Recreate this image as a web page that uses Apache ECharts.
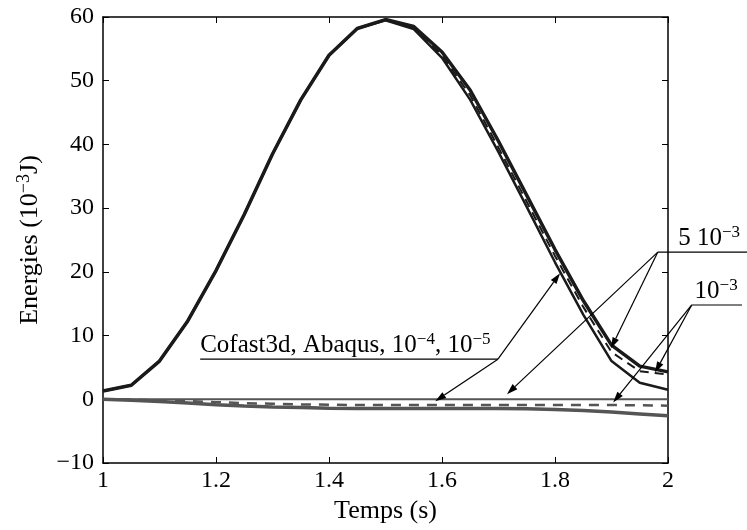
<!DOCTYPE html>
<html>
<head>
<meta charset="utf-8">
<script src="https://cdn.jsdelivr.net/npm/echarts@6/dist/echarts.min.js"></script>
<style>html,body{margin:0;padding:0;background:#fff}#c{width:747px;height:530px}</style>
</head>
<body>
<div id="c"></div>
<script>
const times = [1, 1.05, 1.1, 1.15, 1.2, 1.25, 1.3, 1.35, 1.4, 1.45, 1.5, 1.55, 1.6, 1.65, 1.7, 1.75, 1.8, 1.85, 1.9, 1.95, 2];
const energyOuter = [1.3, 2.2, 6.0, 12.3, 20.2, 29.0, 38.5, 47.0, 54.0, 58.2, 59.6, 58.5, 54.5, 48.5, 40.5, 32.0, 23.5, 15.5, 8.5, 5.2, 4.3];
const energyDashed = [1.3, 2.2, 6.0, 12.3, 20.2, 29.0, 38.5, 47.0, 54.0, 58.2, 59.6, 58.3, 54.0, 47.7, 39.5, 31.0, 22.5, 14.5, 7.4, 4.4, 3.9];
const energyInner = [1.3, 2.2, 6.0, 12.3, 20.2, 29.0, 38.5, 47.0, 54.0, 58.2, 59.5, 58.1, 53.6, 47.0, 38.8, 30.2, 21.5, 13.3, 6.0, 2.6, 1.5];
const lowSolid = [0, 0, 0, 0, 0, 0, 0, 0, 0, 0, 0, 0, 0, 0, 0, 0, 0, 0, 0, 0, 0];
const lowDashed = [0, -0.05, -0.15, -0.3, -0.45, -0.6, -0.7, -0.8, -0.85, -0.9, -0.9, -0.9, -0.9, -0.9, -0.9, -0.9, -0.9, -0.9, -0.9, -0.95, -1.0];
const lowThick = [0, -0.15, -0.35, -0.6, -0.85, -1.05, -1.2, -1.3, -1.4, -1.45, -1.45, -1.45, -1.45, -1.45, -1.45, -1.5, -1.6, -1.75, -2.0, -2.3, -2.6];
const xTicks = [1, 1.2, 1.4, 1.6, 1.8, 2];
const yTicks = [-10, 0, 10, 20, 30, 40, 50, 60];

const FONT = 'Liberation Serif';
const pair = arr => times.map((t, i) => [t, arr[i]]);

const chart = echarts.init(document.getElementById('c'), null, {renderer: 'canvas'});
const axisCommon = {
  type: 'value',
  axisLine: {show: true, onZero: false, lineStyle: {color: '#000', width: 1.5}},
  axisTick: {show: true, inside: true, length: 6, lineStyle: {color: '#000', width: 1}},
  splitLine: {show: false}
};
const lineSeries = (name, arr, color, width, type, z) => ({
  name, type: 'line', data: pair(arr), symbol: 'none', smooth: false, z: z || 2,
  lineStyle: {color, width, type: type || 'solid'}
});

chart.setOption({
  animation: false,
  backgroundColor: '#fff',
  grid: {left: 103, right: 79, top: 17, bottom: 67},
  xAxis: [
    Object.assign({}, axisCommon, {
      min: xTicks[0], max: xTicks[xTicks.length - 1], interval: 0.2, position: 'bottom',
      axisLabel: {color: '#000', fontFamily: FONT, fontSize: 24, margin: 6},
      name: 'Temps (s)', nameLocation: 'middle', nameGap: 33,
      nameTextStyle: {color: '#000', fontFamily: FONT, fontSize: 26}
    }),
    Object.assign({}, axisCommon, {
      min: xTicks[0], max: xTicks[xTicks.length - 1], interval: 0.2, position: 'top',
      axisLabel: {show: false}
    })
  ],
  yAxis: [
    Object.assign({}, axisCommon, {
      min: yTicks[0], max: yTicks[yTicks.length - 1], interval: 10, position: 'left',
      axisLabel: {color: '#000', fontFamily: FONT, fontSize: 24, margin: 9,
        formatter: v => v < 0 ? '\u2212' + Math.abs(v) : String(v)},
      name: 'Energies (10{s|\u22123}J)', nameLocation: 'middle', nameGap: 58, nameRotate: 90,
      nameTextStyle: {color: '#000', fontFamily: FONT, fontSize: 26,
        rich: {s: {fontFamily: FONT, fontSize: 18, color: '#000', padding: [0, 0, 12, 0]}}}
    }),
    Object.assign({}, axisCommon, {
      min: yTicks[0], max: yTicks[yTicks.length - 1], interval: 10, position: 'right',
      axisLabel: {show: false}
    })
  ],
  series: [
    lineSeries('lowThick', lowThick, '#555', 3.5, 'solid', 2),
    lineSeries('lowDashed', lowDashed, '#555', 2.5, [10, 8], 2),
    lineSeries('lowSolid', lowSolid, '#555', 2, 'solid', 3),
    lineSeries('inner', energyInner, '#1a1a1a', 2.5, 'solid', 4),
    lineSeries('dashed', energyDashed, '#1a1a1a', 2, [9, 6], 4),
    lineSeries('outer', energyOuter, '#1a1a1a', 3.5, 'solid', 5)
  ]
});

// Annotations (in data coordinates)
const annotations = [
  {text: 'Cofast3d, Abaqus, 10{s|\u22124}, 10{s|\u22125}', textAt: [1.172, 6.3],
   under: [[1.172, 6.3], [1.699, 6.3]],
   arrows: [[[1.699, 6.3], [1.809, 19.8]], [[1.699, 6.3], [1.588, -0.3]]]},
  {text: '5 10{s|\u22123}', textAt: [2.018, 23.1],
   under: [[1.982, 23.1], [2.14, 23.1]],
   arrows: [[[1.982, 23.1], [1.715, 0.8]], [[1.982, 23.1], [1.899, 8.0]]]},
  {text: '10{s|\u22123}', textAt: [2.047, 14.8],
   under: [[2.042, 14.8], [2.131, 14.8]],
   arrows: [[[2.042, 14.8], [1.977, 4.2]], [[2.042, 14.8], [1.903, -0.5]]]}
];
const px = p => chart.convertToPixel({gridIndex: 0}, p);
const graphics = [];
annotations.forEach((a, i) => {
  const fs = 25;
  const u0 = px(a.under[0]), u1 = px(a.under[1]);
  graphics.push({type: 'line', shape: {x1: u0[0], y1: u0[1], x2: u1[0], y2: u1[1]},
    style: {stroke: '#000', lineWidth: 1.2}, z: 100});
  const tp = px(a.textAt);
  graphics.push({type: 'text', x: tp[0], y: tp[1] + 1, z: 100,
    style: {text: a.text, fill: '#000', font: fs + 'px ' + FONT, textVerticalAlign: 'bottom', textAlign: 'left',
      rich: {s: {fontFamily: FONT, fontSize: 17, fill: '#000', padding: [0, 0, 12, 0]}}}});
  a.arrows.forEach(ar => {
    const s = px(ar[0]), e = px(ar[1]);
    const dx = e[0] - s[0], dy = e[1] - s[1], L = Math.hypot(dx, dy);
    const ux = dx / L, uy = dy / L, hl = 11, hw = 3.5;
    const bx = e[0] - ux * hl, by = e[1] - uy * hl;
    graphics.push({type: 'line', shape: {x1: s[0], y1: s[1], x2: bx, y2: by},
      style: {stroke: '#000', lineWidth: 1.2}, z: 100});
    graphics.push({type: 'polygon', z: 100,
      shape: {points: [[e[0], e[1]], [bx - uy * hw, by + ux * hw], [bx + uy * hw, by - ux * hw]]},
      style: {fill: '#000'}});
  });
});
chart.setOption({graphic: graphics});
</script>
</body>
</html>
